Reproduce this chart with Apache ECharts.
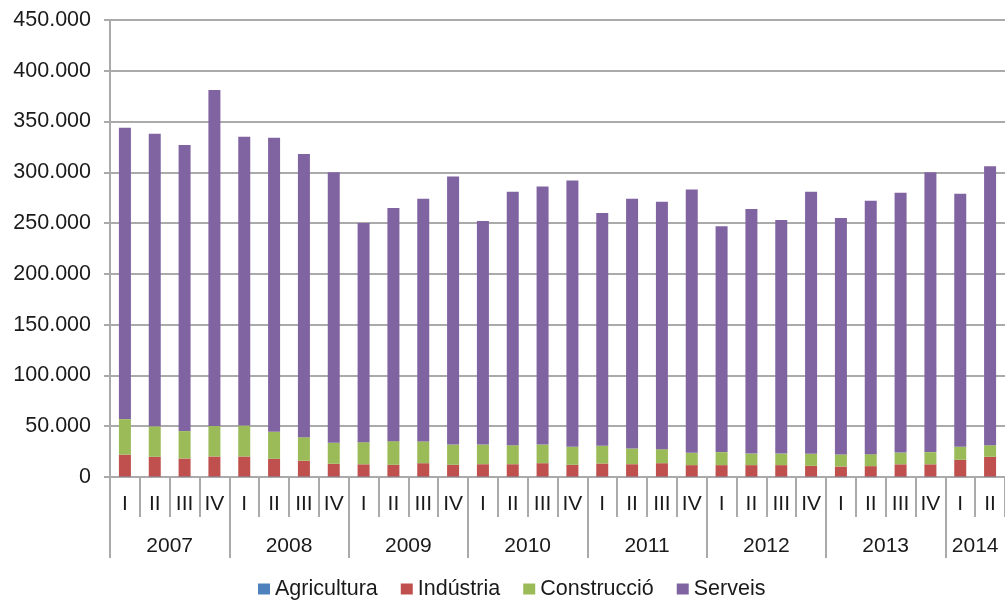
<!DOCTYPE html>
<html>
<head>
<meta charset="utf-8">
<script src="https://cdn.jsdelivr.net/npm/echarts@6/dist/echarts.min.js"></script>
<style>
html,body{margin:0;padding:0;background:#fff;overflow:hidden;}
#chart{width:1005px;height:603px;}
</style>
</head>
<body>
<div id="chart"></div>
<script>
const years = ['2007','2008','2009','2010','2011','2012','2013','2014'];
const quarterNames = ['I','II','III','IV'];
const quartersPerYear = [4,4,4,4,4,4,4,2];
const seriesNames = ['Agricultura','Indústria','Construcció','Serveis'];
const colors = ['#4f81bd','#c0504d','#9bbb59','#8064a2'];

// totals (sum of all sectors, thousands)
const totals = [344,338,327,381, 335,334,318,300, 250,265,274,296, 252,281,286,292,
                260,274,271,283, 247,264,253,281, 255,272,280,300, 279,306];
const agricultura = [0.5,0.5,0.5,0.5, 0.5,0.5,0.5,0.5, 0.5,0.5,0.5,0.5, 0.5,0.5,0.5,0.5,
                     0.5,0.5,0.5,0.5, 0.5,0.5,0.5,0.5, 0.5,0.5,0.5,0.5, 0.5,0.5];
const industria = [21.5,19.4,17.7,19.7, 19.7,17.4,15.5,12.5, 12,11.5,13.1,11.5, 12.1,12.1,13.1,11.5,
                   12.8,12.1,13.1,11.2, 11.2,11.2,11.2,10.5, 9.8,10.2,12,12, 16.4,19.4];
const construccio = [35,30,27,30, 30.5,26.6,23.2,20.7, 21.8,23.3,21.4,20, 19.4,18.7,18.4,17.7,
                     17.4,15.5,13.8,12.1, 12.8,11.4,11.4,11.8, 11.9,11.8,11.6,12, 12.8,11.4];

const categories = [];
years.forEach((y, i) => { for (let q = 0; q < quartersPerYear[i]; q++) categories.push(quarterNames[q]); });

const serveis = totals.map((t, i) => +(t - agricultura[i] - industria[i] - construccio[i]).toFixed(1));
const seriesData = [agricultura, industria, construccio, serveis].map(a => a.map(v => v * 1000));

// year boundaries and centers on the quarter scale
const yearBounds = [];
const yearCenters = [];
let acc = 0;
quartersPerYear.forEach(n => { yearBounds.push(acc); yearCenters.push(acc + n / 2); acc += n; });

const chart = echarts.init(document.getElementById('chart'));
const font = 'Liberation Sans, Arial, Helvetica, sans-serif';
const axisGray = '#aaaaaa';
const textColor = '#1a1a1a';

chart.setOption({
  animation: false,
  textStyle: { fontFamily: font },
  color: colors,
  grid: { left: 110, right: -9, top: 20, bottom: 126, containLabel: false },
  legend: {
    top: 577,
    left: 253,
    padding: [1, 5, 1, 5],
    itemWidth: 12,
    itemHeight: 11,
    itemGap: 23,
    icon: 'rect',
    textStyle: { fontSize: 21.5, color: textColor, fontFamily: font },
    data: seriesNames
  },
  xAxis: [
    {
      type: 'category',
      data: categories,
      position: 'bottom',
      axisLine: { show: true, lineStyle: { color: axisGray, width: 2 } },
      axisTick: { show: true, interval: 0, length: 40, lineStyle: { color: axisGray, width: 2 } },
      axisLabel: { interval: 0, fontSize: 21, color: textColor, margin: 17 },
      splitLine: { show: false }
    },
    {
      type: 'value',
      min: 0,
      max: categories.length,
      position: 'bottom',
      axisLine: { show: false },
      axisTick: { show: true, customValues: yearBounds, length: 81, lineStyle: { color: axisGray, width: 2 } },
      axisLabel: {
        customValues: yearCenters,
        fontSize: 21, color: textColor, margin: 59,
        formatter: v => { const i = yearCenters.indexOf(v); return i >= 0 ? years[i] : ''; }
      },
      splitLine: { show: false }
    }
  ],
  yAxis: {
    type: 'value',
    min: 0,
    max: 450000,
    interval: 50000,
    axisLine: { show: true, lineStyle: { color: axisGray, width: 2 } },
    axisTick: { show: true, length: 6, lineStyle: { color: axisGray, width: 2 } },
    axisLabel: {
      fontSize: 21.5, color: textColor, margin: 19,
      formatter: v => v === 0 ? '0' : (v / 1000) + '.000'
    },
    splitLine: { show: true, lineStyle: { color: axisGray, width: 2 } }
  },
  series: seriesNames.map((name, i) => ({
    name: name,
    type: 'bar',
    stack: 'total',
    barWidth: 12,
    xAxisIndex: 0,
    data: seriesData[i]
  }))
});
</script>
</body>
</html>
